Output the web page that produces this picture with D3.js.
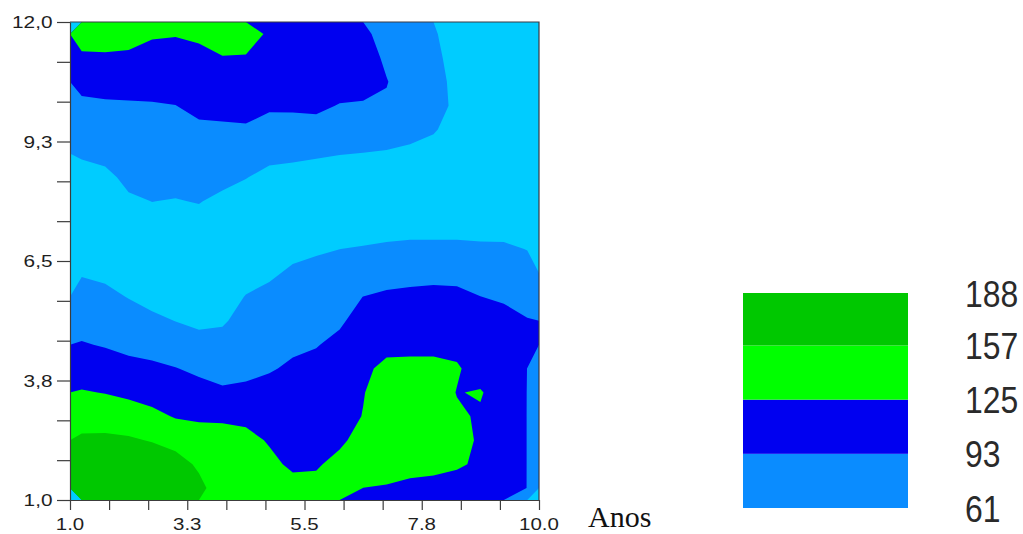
<!DOCTYPE html>
<html>
<head>
<meta charset="utf-8">
<script src="https://cdn.jsdelivr.net/npm/d3@7"></script>
<style>
  body { margin: 0; background: #ffffff; }
  svg { display: block; }
</style>
</head>
<body>
<svg id="chart" width="1023" height="534"></svg>
<script>
// Contour levels shown in the legend
const levels = [61, 93, 125, 157, 188];
// Fill for each band: >=61, >=93, >=125, >=157
const bandColors = ["#0a8cff", "#0000f0", "#00ff00", "#00c800"];
// Fill for values below the lowest level
const belowColor = "#00ccff";

// Axis labels (every third tick carries a label)
const xLabels = ["1.0", "3.3", "5.5", "7.8", "10.0"];
const yLabels = ["1,0", "3,8", "6,5", "9,3", "12,0"];
const xTitle = "Anos";

// Gridded values, one array per column (left to right, years 1 to 10);
// each column runs from the top edge (12) down to the bottom edge (1).
const columns = [
  [138, 120, 102, 87, 76, 64, 52, 40, 36, 47, 59, 71, 82, 95, 111, 127, 144, 162, 179, 186],
  [138, 121, 104, 89, 78, 67, 56, 45, 34, 44, 56, 67, 79, 91, 107, 124, 143, 163, 183, 186],
  [135, 120, 104, 90, 82, 74, 66, 58, 50, 42, 47, 60, 73, 86, 101, 119, 139, 161, 182, 186],
  [128, 115, 103, 91, 84, 76, 69, 61.2, 54, 46, 39, 52, 67, 83, 98, 114, 132, 155, 178, 186],
  [126.4, 115, 104, 92.7, 85, 76, 68, 60, 52, 44, 36, 44, 60.5, 77, 94, 109, 123, 146, 170, 186],
  [129, 119, 109, 98.5, 89, 80, 71, 62, 53, 44, 35, 39, 55, 71, 87, 104, 121, 137, 152, 165],
  [136, 124, 112, 101, 89, 78, 67, 56, 45, 34, 44, 50, 58, 70, 83, 97, 119, 140, 145, 140],
  [134, 123.5, 113, 102, 90, 76, 62, 48, 37, 45, 52, 62, 70, 79, 87, 98, 116.5, 135, 148, 145],
  [122, 113.5, 105, 96.4, 84, 69, 53, 38, 41, 49.5, 58, 66, 74, 83, 91, 101, 112, 122, 133, 140],
  [118, 112, 104, 97, 83, 67, 51, 39, 47.5, 56, 64, 72, 81, 89, 96.5, 103, 110, 116, 119, 136],
  [116, 112, 106, 98.5, 83, 65, 47, 42, 50, 58.6, 67, 75, 83, 91.6, 101, 106, 112, 118, 122, 133],
  [118, 113, 105, 91.6, 77, 62, 47, 42, 52, 60.9, 70, 80, 89, 100, 106, 110, 113, 120, 133, 140],
  [97.5, 104, 105, 90, 76, 60.5, 45, 33, 48, 63, 78, 93.3, 104, 112, 120, 123.6, 126, 135, 138, 124.8],
  [85, 89, 94, 90, 73, 59, 44, 32.5, 49, 66, 83, 97, 108, 118, 131, 140, 145, 145, 139, 122.5],
  [74, 77.5, 81, 80, 69, 56, 42, 33, 50, 68, 85, 98.5, 109, 119, 131, 141, 147, 145, 135, 118],
  [63.5, 66.5, 69, 70, 63.5, 50.5, 36, 33, 50, 68, 87, 99, 109, 119, 131, 140, 146, 144, 133, 116],
  [50, 52.5, 55, 56, 50, 44, 34, 33, 50, 68, 86, 98.5, 108, 117, 128, 124, 129, 137, 129, 112],
  [36, 38, 41, 42, 38, 32, 30, 33, 50, 66, 80, 93.3, 106, 113, 113, 127, 122, 120.5, 120, 112],
  [36, 38, 40, 41, 38, 32, 30, 33, 50, 65.5, 77, 89, 103, 108, 110, 112, 110, 110, 110, 109],
  [38, 40, 41, 42, 40, 36, 33, 36, 46, 60.3, 72, 83, 94.5, 100, 92.8, 92.5, 92.5, 92.5, 92.5, 92.5]
];

const svg = d3.select("#chart");

// Plot frame
const plot = { left: 70, right: 539, top: 22, bottom: 500 };
const x = d3.scaleLinear().domain([1, 10]).range([plot.left, plot.right]);
const y = d3.scaleLinear().domain([1, 12]).range([plot.bottom, plot.top]);

// Tick positions: 12 intervals on each axis
const xTicks = d3.range(13).map(k => 1 + k * 9 / 12);
const yTicks = d3.range(13).map(k => 1 + k * 11 / 12);

// Flatten the columns into a row-major grid for d3.contours
const nx = columns.length, ny = columns[0].length;
const values = new Array(nx * ny);
for (let j = 0; j < ny; j++) {
  for (let i = 0; i < nx; i++) values[j * nx + i] = columns[i][j];
}

// Grid space -> data space -> pixels
const gx = d3.scaleLinear().domain([0, nx]).range([1, 10]);
const gy = d3.scaleLinear().domain([0, ny]).range([12, 1]);
const proj = d3.geoTransform({
  point(u, v) { this.stream.point(x(gx(u)), y(gy(v))); }
});
const path = d3.geoPath(proj);

const bands = d3.contours()
  .size([nx, ny])
  .thresholds(levels.slice(0, 4))(values);

// Lowest band as the plot background, then stacked filled contours
svg.append("rect")
  .attr("x", plot.left).attr("y", plot.top)
  .attr("width", plot.right - plot.left)
  .attr("height", plot.bottom - plot.top)
  .attr("fill", belowColor);

svg.append("g")
  .selectAll("path")
  .data(bands)
  .join("path")
  .attr("d", path)
  .attr("fill", (d, i) => bandColors[i]);

// Frame (top and right edges)
const frameColor = "#3a3a44";
svg.append("path")
  .attr("d", `M${plot.left},${plot.top}H${plot.right}V${plot.bottom}`)
  .attr("fill", "none")
  .attr("stroke", frameColor)
  .attr("stroke-width", 1.2);

// Axes
const axisColor = "#3c3c3c";
const yAxis = svg.append("g")
  .attr("transform", `translate(${plot.left},0)`)
  .call(d3.axisLeft(y).tickValues(yTicks).tickSize(13).tickSizeOuter(0).tickFormat(""));
const xAxis = svg.append("g")
  .attr("transform", `translate(0,${plot.bottom})`)
  .call(d3.axisBottom(x).tickValues(xTicks).tickSize(10).tickSizeOuter(0).tickFormat(""));
[yAxis, xAxis].forEach(g => {
  g.selectAll("path, line").attr("stroke", axisColor).attr("stroke-width", 1.2);
});

const labelFont = "'Liberation Sans', Arial, sans-serif";

// Y tick labels
svg.append("g")
  .selectAll("text")
  .data(yLabels)
  .join("text")
  .attr("transform", (d, k) => `translate(52.5,${y(yTicks[k * 3]) + 6}) scale(1.3,1)`)
  .attr("text-anchor", "end")
  .attr("font-family", labelFont)
  .attr("font-size", 16)
  .attr("fill", "#1e1e1e")
  .text(d => d);

// X tick labels
svg.append("g")
  .selectAll("text")
  .data(xLabels)
  .join("text")
  .attr("transform", (d, k) => `translate(${x(xTicks[k * 3])},529.5) scale(1.28,1)`)
  .attr("text-anchor", "middle")
  .attr("font-family", labelFont)
  .attr("font-size", 16)
  .attr("fill", "#1e1e1e")
  .text(d => d);

// X axis title
svg.append("text")
  .attr("x", 588).attr("y", 527)
  .attr("font-family", "'Liberation Serif', 'Times New Roman', serif")
  .attr("font-size", 30)
  .attr("fill", "#111")
  .text(xTitle);

// Legend: colour bar with level labels at the band edges
const legend = { left: 743, right: 908, top: 293, bottom: 508 };
const ly = d3.scaleLinear()
  .domain([levels[0], levels[levels.length - 1]])
  .range([legend.bottom, legend.top]);

svg.append("g")
  .selectAll("rect")
  .data(d3.range(levels.length - 1))
  .join("rect")
  .attr("x", legend.left)
  .attr("width", legend.right - legend.left)
  .attr("y", k => ly(levels[k + 1]))
  .attr("height", k => ly(levels[k]) - ly(levels[k + 1]))
  .attr("fill", k => bandColors[k]);

svg.append("g")
  .selectAll("text")
  .data(levels)
  .join("text")
  .attr("transform", d => `translate(965,${ly(d) + 13.5}) scale(0.85,1)`)
  .attr("font-family", labelFont)
  .attr("font-size", 37.5)
  .attr("fill", "#2a2a2a")
  .text(d => d);
</script>
</body>
</html>
